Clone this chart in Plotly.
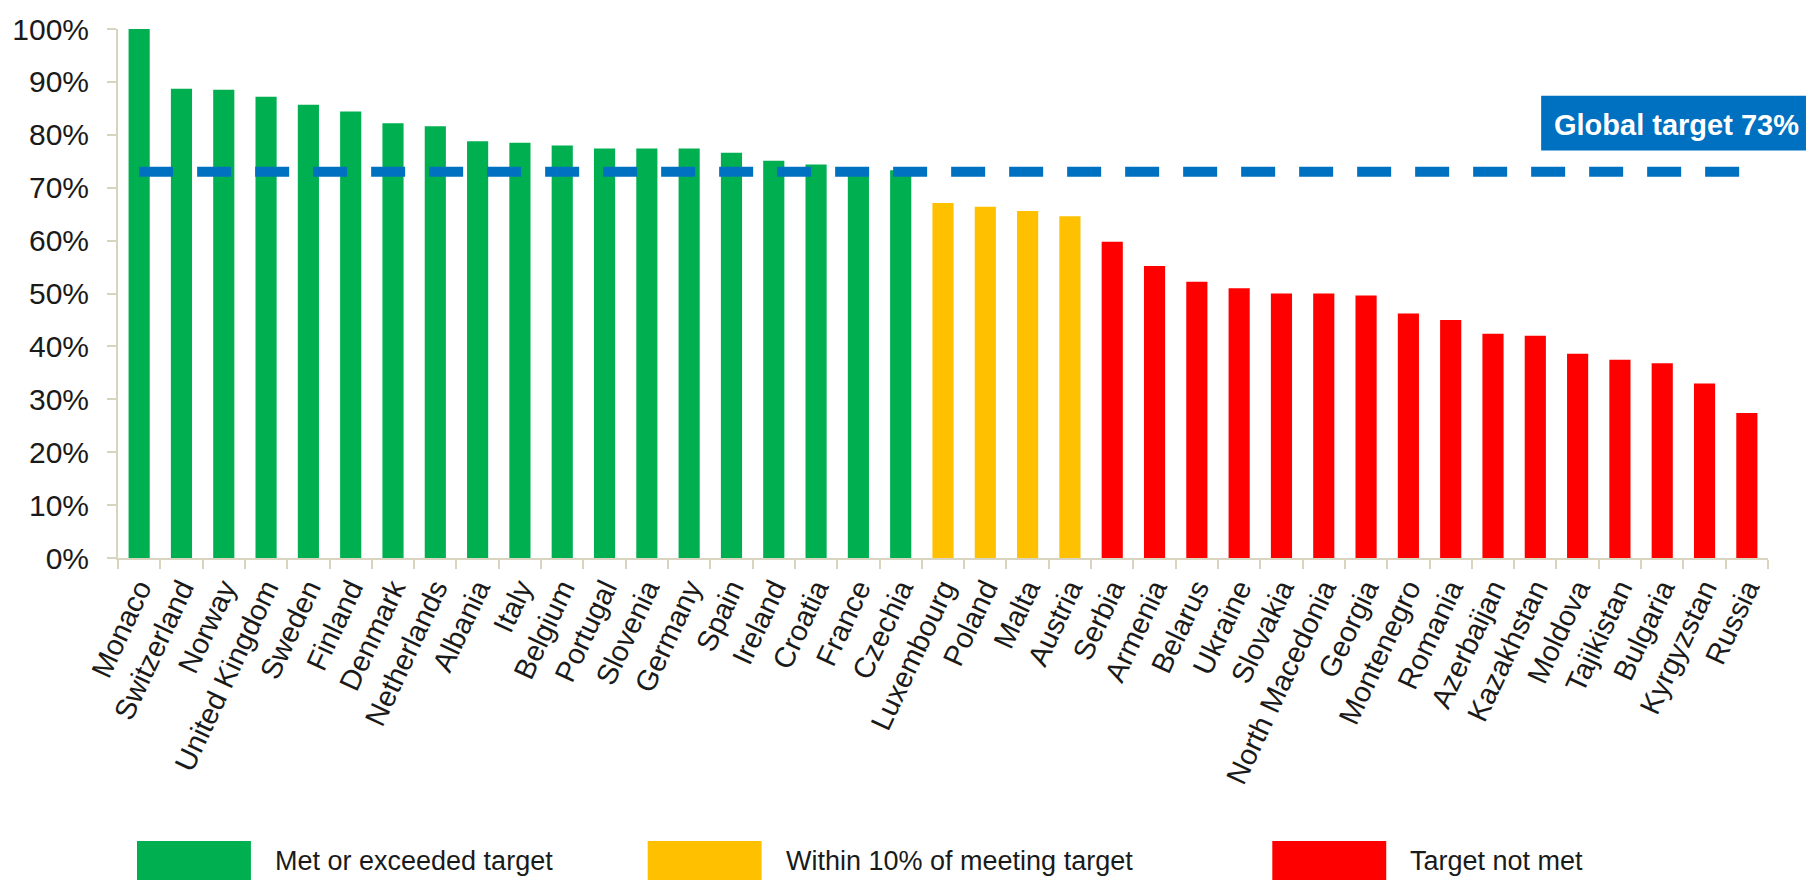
import plotly.graph_objects as go

countries = ["Monaco", "Switzerland", "Norway", "United Kingdom", "Sweden", "Finland", "Denmark",
             "Netherlands", "Albania", "Italy", "Belgium", "Portugal", "Slovenia", "Germany", "Spain",
             "Ireland", "Croatia", "France", "Czechia", "Luxembourg", "Poland", "Malta", "Austria",
             "Serbia", "Armenia", "Belarus", "Ukraine", "Slovakia", "North Macedonia", "Georgia",
             "Montenegro", "Romania", "Azerbaijan", "Kazakhstan", "Moldova", "Tajikistan", "Bulgaria",
             "Kyrgyzstan", "Russia"]
values = [100.0, 88.7, 88.5, 87.2, 85.7, 84.4, 82.2, 81.6, 78.8, 78.5, 78.0, 77.4, 77.4, 77.4, 76.6,
          75.1, 74.4, 73.5, 73.3, 67.1, 66.4, 65.6, 64.6, 59.8, 55.2, 52.2, 51.0, 50.0, 50.0, 49.6,
          46.2, 45.0, 42.4, 42.0, 38.6, 37.5, 36.8, 33.0, 27.4]
status = [0] * 19 + [1] * 4 + [2] * 16
legend_labels = ["Met or exceeded target", "Within 10% of meeting target", "Target not met"]
status_colors = ["#00B050", "#FFC000", "#FF0000"]
target = 73
target_label = "Global target 73%"

FONT = "Liberation Sans, Arial, sans-serif"
AXIS_COLOR = "#D9D4BF"
TEXT_COLOR = "#1a1a1a"

fig = go.Figure()
fig.add_trace(go.Bar(
    x=countries, y=values,
    marker=dict(color=[status_colors[s] for s in status], line=dict(width=0)),
    showlegend=False,
))
fig.add_trace(go.Scatter(
    x=[countries[0], countries[-1]], y=[target, target],
    mode="lines",
    line=dict(color="#0070C0", width=10, dash="34px,24px"),
    showlegend=False,
))

# plot area pixel geometry (for placing paper-based decorations)
L, R, T, B = 117, 38, 27, 322
W, H = 1806, 880
pw, ph = W - L - R, H - T - B
def px(X):
    return (X - L) / pw
def py(Y):
    return (H - B - Y) / ph

shapes = []
annotations = []
# target label box
shapes.append(dict(type="rect", xref="paper", yref="paper",
                   x0=px(1541), x1=px(1806), y0=py(149), y1=py(94),
                   fillcolor="#0070C0", line=dict(width=0), layer="above"))
annotations.append(dict(xref="paper", yref="paper", x=px(1676), y=py(123),
                        text="<b>" + target_label + "</b>", showarrow=False,
                        font=dict(family=FONT, size=29, color="white"),
                        xanchor="center", yanchor="middle"))
# custom legend
sw_x = [136, 647, 1272]
for i, (lab, col) in enumerate(zip(legend_labels, status_colors)):
    shapes.append(dict(type="rect", xref="paper", yref="paper",
                       x0=px(sw_x[i]), x1=px(sw_x[i] + 114), y0=py(900), y1=py(842),
                       fillcolor=col, line=dict(width=0)))
    annotations.append(dict(xref="paper", yref="paper", x=px(sw_x[i] + 136), y=py(862),
                            text=lab, showarrow=False,
                            font=dict(family=FONT, size=27, color=TEXT_COLOR),
                            xanchor="left", yanchor="middle"))

fig.update_layout(
    width=W, height=H,
    margin=dict(l=L, r=R, t=T, b=B),
    paper_bgcolor="white", plot_bgcolor="white",
    bargap=0.5,
    font=dict(family=FONT, color=TEXT_COLOR),
    shapes=shapes, annotations=annotations,
    xaxis=dict(type="category", range=[-0.5, len(countries) - 0.5],
               tickangle=-65, tickson="boundaries", ticks="outside", ticklen=9,
               tickcolor=AXIS_COLOR, tickwidth=2,
               showline=True, linecolor=AXIS_COLOR, linewidth=2, showgrid=False,
               tickfont=dict(family=FONT, size=29, color=TEXT_COLOR)),
    yaxis=dict(range=[0, 100], dtick=10, ticksuffix="%", ticks="outside", ticklen=9,
               tickcolor=AXIS_COLOR, tickwidth=2, ticklabelstandoff=12,
               showline=True, linecolor=AXIS_COLOR, linewidth=2, showgrid=False, zeroline=False,
               tickfont=dict(family=FONT, size=30, color=TEXT_COLOR)),
)

fig.write_html("out.html", config={"displayModeBar": False},
               post_script="document.body.style.margin='0';document.body.style.overflow='hidden';")
